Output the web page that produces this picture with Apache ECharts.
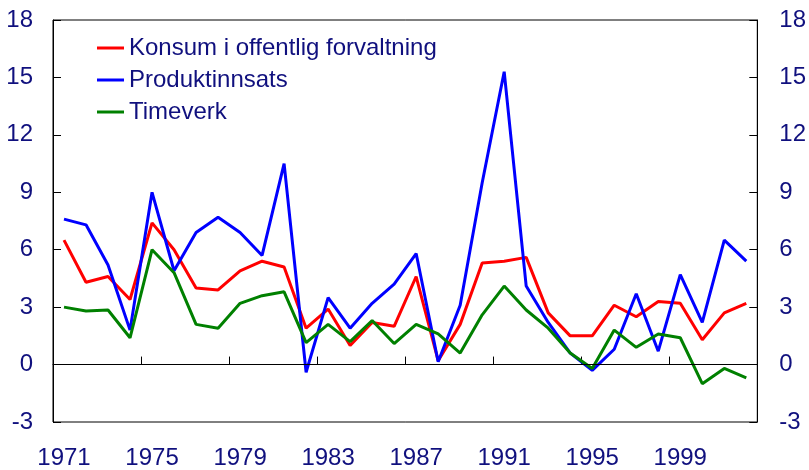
<!DOCTYPE html>
<html>
<head>
<meta charset="utf-8">
<script src="https://cdn.jsdelivr.net/npm/echarts@6/dist/echarts.min.js"></script>
<style>
  html, body { margin: 0; padding: 0; background: #fff; }
  #chart { width: 809px; height: 470px; }
</style>
</head>
<body>
<div id="chart"></div>
<script>
// years 1971 - 2002
const years = [];
for (let y = 1971; y <= 2002; y++) years.push(String(y));

const konsum = [6.5, 4.3, 4.6, 3.4, 7.4, 6.0, 4.0, 3.9, 4.9, 5.4, 5.1,
  1.9, 2.9, 1.0, 2.2, 2.0, 4.6, 0.2, 2.1, 5.3, 5.4, 5.6,
  2.7, 1.5, 1.5, 3.1, 2.5, 3.3, 3.2, 1.3, 2.7, 3.2];
const produktinnsats = [7.6, 7.3, 5.2, 1.8, 9.0, 4.9, 6.9, 7.7, 6.9, 5.7, 10.5,
  -0.4, 3.5, 1.9, 3.2, 4.2, 5.8, 0.15, 3.1, 9.5, 15.3, 4.1,
  2.2, 0.6, -0.3, 0.8, 3.7, 0.7, 4.7, 2.2, 6.5, 5.4];
const timeverk = [3.0, 2.8, 2.85, 1.4, 6.0, 4.8, 2.1, 1.9, 3.2, 3.6, 3.8,
  1.15, 2.1, 1.2, 2.3, 1.1, 2.1, 1.6, 0.6, 2.6, 4.1, 2.85,
  1.9, 0.6, -0.2, 1.8, 0.9, 1.6, 1.4, -1.0, -0.2, -0.7];

const navy = '#10107e';

const chart = echarts.init(document.getElementById('chart'));

const yAxisBase = {
  type: 'value',
  min: -3,
  max: 18,
  interval: 3,
  axisLine: { show: true, lineStyle: { color: '#000', width: 1 } },
  axisTick: { show: true, inside: true, length: 8, lineStyle: { color: '#000' } },
  splitLine: { show: false },
  axisLabel: { color: navy, fontSize: 24, fontFamily: 'Liberation Sans, Arial, sans-serif' }
};

const lineSeries = (name, data, color, extra) => Object.assign({
  name: name,
  type: 'line',
  data: data,
  symbol: 'none',
  lineStyle: { color: color, width: 3 },
  itemStyle: { color: color },
  animation: false
}, extra || {});

chart.setOption({
  animation: false,
  grid: {
    left: 53, right: 50, top: 20, bottom: 48,
    show: true, borderColor: '#000', borderWidth: 1, backgroundColor: 'transparent'
  },
  legend: {
    orient: 'vertical',
    left: 92,
    top: 31,
    itemWidth: 27,
    itemHeight: 3,
    itemGap: 8,
    icon: 'rect',
    textStyle: { color: navy, fontSize: 24, lineHeight: 24, fontFamily: 'Liberation Sans, Arial, sans-serif' },
    data: ['Konsum i offentlig forvaltning', 'Produktinnsats', 'Timeverk']
  },
  xAxis: {
    type: 'category',
    data: years,
    boundaryGap: true,
    axisLine: { show: true, lineStyle: { color: '#000', width: 1 } },
    axisTick: { show: true, inside: true, length: 8, interval: 3, lineStyle: { color: '#000' } },
    axisLabel: { interval: 3, color: navy, fontSize: 24, margin: 24, fontFamily: 'Liberation Sans, Arial, sans-serif' }
  },
  yAxis: [
    Object.assign({}, yAxisBase, { position: 'left', axisLabel: Object.assign({}, yAxisBase.axisLabel, { margin: 20 }) }),
    Object.assign({}, yAxisBase, { position: 'right', axisLabel: Object.assign({}, yAxisBase.axisLabel, { margin: 22 }) })
  ],
  series: [
    lineSeries('Konsum i offentlig forvaltning', konsum, '#ff0000', {
      markLine: {
        silent: true,
        symbol: 'none',
        label: { show: false },
        lineStyle: { color: '#000', width: 1, type: 'solid' },
        data: [{ yAxis: 0 }]
      }
    }),
    lineSeries('Produktinnsats', produktinnsats, '#0000ff'),
    lineSeries('Timeverk', timeverk, '#008000')
  ]
});
</script>
</body>
</html>
